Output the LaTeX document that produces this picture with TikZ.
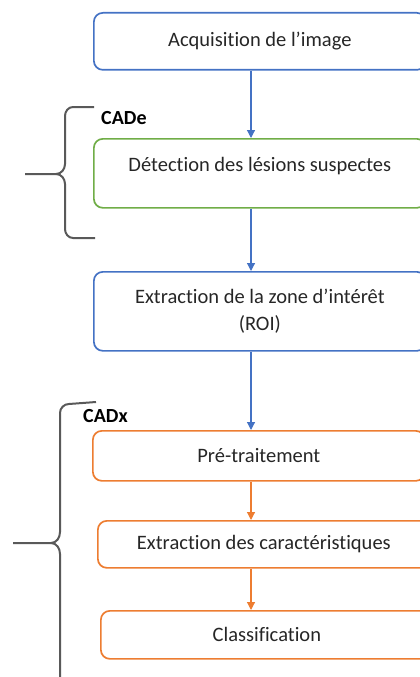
\documentclass[tikz,border=0pt]{standalone}
\usepackage{fontspec}
\setmainfont{Carlito}[Ligatures=NoCommon]
\usetikzlibrary{arrows.meta}
\definecolor{wblue}{RGB}{68,114,196}
\definecolor{wgreen}{RGB}{112,173,71}
\definecolor{worange}{RGB}{237,125,49}
\definecolor{wgray}{RGB}{89,89,89}
\begin{document}
\begin{tikzpicture}[x=1pt,y=-1pt,
	box/.style={draw,rounded corners=9pt,line width=1.7pt,anchor=north west,minimum width=332pt,align=center,inner sep=2pt,text=black!85,font=\fontsize{20.5}{27}\selectfont},
	link/.style={line width=1.2pt,-{Triangle[length=8pt,width=8pt]}},
	brace/.style={wgray,line width=2pt}]
		\useasboundingbox (0,0) rectangle (420,677);
		\clip (0,0) rectangle (420,677);
		\coordinate (axis) at (251,0);
		\node [box,draw=wblue,minimum height=57pt] (1) at (93,12) {Acquisition de l’image};
		\node [box,draw=wgreen,minimum height=69pt,text depth=18pt] (2) at (93,138) {Détection des lésions suspectes};
		\node [box,draw=wblue,minimum height=79pt] (3) at (93,271) {Extraction de la zone d’intérêt\\(ROI)};
		\node [box,draw=worange,minimum height=50pt] (4) at (92,430) {Pré-traitement};
		\node [box,draw=worange,minimum height=47pt] (5) at (97,520) {Extraction des caractéristiques};
		\node [box,draw=worange,minimum height=48pt] (6) at (100,610) {Classification};
		% arrows
		\draw [link,wblue] (1.south -| axis) -- (2.north -| axis);
		\draw [link,wblue] (2.south -| axis) -- (3.north -| axis);
		\draw [link,wblue] (3.south -| axis) -- (4.north -| axis);
		\draw [link,worange] (4.south -| axis) -- (5.north -| axis);
		\draw [link,worange] (5.south -| axis) -- (6.north -| axis);
		% braces
		\draw [brace] (94,107) -- (73,107) to[out=180,in=90] (65,116) -- (65,164) to[out=-90,in=0] (56,174) -- (25,174);
		\draw [brace] (56,174) to[out=0,in=90] (65,184) -- (65,229) to[out=-90,in=180] (73,238) -- (95,238);
		\node [anchor=west,inner sep=0pt,font=\fontsize{20}{22}\selectfont\bfseries] (cade) at (101,118) {CADe};
		\draw [brace] (96,402) -- (69,404) to[out=180,in=90] (60,413) -- (60,532) to[out=-90,in=0] (51,543) -- (13,543);
		\draw [brace] (51,543) to[out=0,in=90] (60,554) -- (60,690);
		\node [anchor=west,inner sep=0pt,font=\fontsize{20}{22}\selectfont\bfseries] (cadx) at (83,416) {CADx};
	\end{tikzpicture}
\end{document}
